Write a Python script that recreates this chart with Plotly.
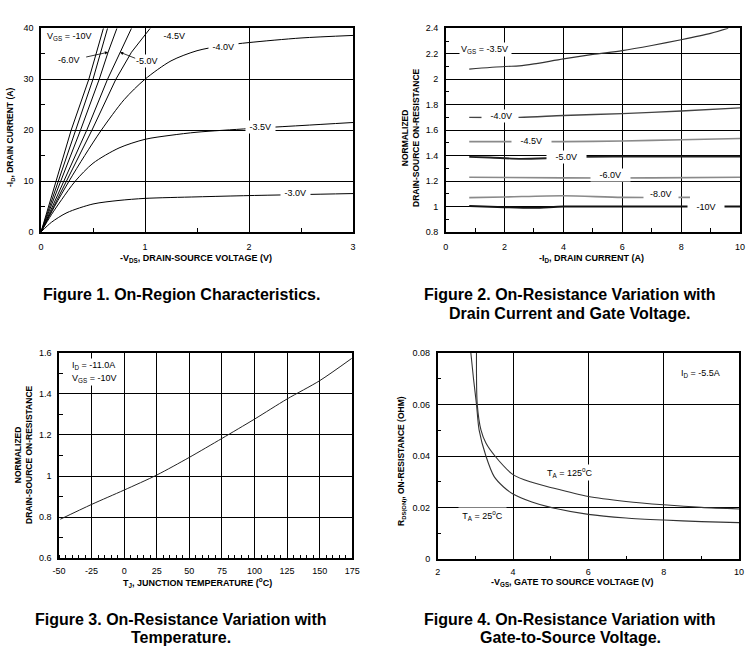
import plotly.graph_objects as go

FONT = "Liberation Sans, Arial, sans-serif"

# ---------------- Figure 1 : -ID (A) vs -VDS (V) ----------------
f1_vds_m10 = [0.0, 0.29, 0.46, 0.60]
f1_id_m10 = [0.0, 20.0, 30.0, 40.0]
f1_vds_m8 = [0.0, 0.33, 0.50, 0.64]
f1_id_m8 = [0.0, 20.0, 30.0, 40.0]
f1_vds_m6 = [0.0, 0.38, 0.56, 0.645, 0.73]
f1_id_m6 = [0.0, 20.0, 30.0, 35.3, 40.0]
f1_vds_m5 = [0.0, 0.44, 0.64, 0.76, 0.87]
f1_id_m5 = [0.0, 20.0, 30.0, 35.3, 40.0]
f1_vds_m45 = [0.0, 0.49, 0.72, 0.87, 1.05]
f1_id_m45 = [0.0, 20.0, 30.0, 35.3, 40.0]
f1_vds_m40 = [0.0, 0.13, 0.27, 0.42, 0.58, 0.80, 1.0, 1.25, 1.5, 1.75, 2.0, 2.5, 3.0]
f1_id_m40 = [0.0, 5.0, 10.0, 15.0, 20.0, 26.0, 30.0, 33.6, 35.6, 36.6, 37.2, 38.1, 38.6]
f1_vds_m35 = [0.0, 0.10, 0.20, 0.33, 0.50, 0.75, 1.0, 1.25, 1.5, 2.0, 2.5, 3.0]
f1_id_m35 = [0.0, 3.4, 6.4, 10.0, 13.5, 16.5, 18.2, 19.0, 19.6, 20.3, 20.9, 21.5]
f1_vds_m30 = [0.0, 0.10, 0.25, 0.50, 0.75, 1.0, 1.5, 2.0, 2.5, 3.0]
f1_id_m30 = [0.0, 1.9, 3.8, 5.5, 6.2, 6.6, 6.9, 7.15, 7.35, 7.55]

# ---------------- Figure 2 : normalized RDS(on) vs -ID ----------------
f2_id_m35 = [0.8, 2.0, 2.5, 3.0, 4.0, 5.0, 6.0, 7.0, 8.0, 9.0, 9.6]
f2_r_m35 = [2.08, 2.10, 2.105, 2.12, 2.16, 2.195, 2.225, 2.265, 2.31, 2.36, 2.40]
f2_id_m40 = [0.8, 2.5, 4.0, 6.0, 8.0, 10.0]
f2_r_m40 = [1.70, 1.70, 1.715, 1.73, 1.75, 1.775]
f2_id_m45 = [0.8, 2.0, 4.0, 6.0, 8.0, 10.0]
f2_r_m45 = [1.51, 1.51, 1.51, 1.515, 1.525, 1.535]
f2_id_m50 = [0.8, 1.5, 2.5, 3.5, 4.5, 6.0, 8.0, 10.0]
f2_r_m50 = [1.39, 1.385, 1.375, 1.38, 1.39, 1.392, 1.392, 1.392]
f2_id_m60 = [0.8, 4.0, 7.0, 10.0]
f2_r_m60 = [1.23, 1.225, 1.225, 1.23]
f2_id_m80 = [0.8, 2.0, 4.0, 6.0, 8.3]
f2_r_m80 = [1.07, 1.075, 1.085, 1.072, 1.072]
f2_id_m100 = [0.8, 2.0, 3.0, 4.0, 6.0, 8.0, 10.0]
f2_r_m100 = [1.005, 0.995, 0.99, 1.0, 1.0, 1.0, 1.0]

# ---------------- Figure 3 : normalized RDS(on) vs TJ ----------------
f3_tj = [-49, -25, 0, 25, 50, 75, 100, 125, 150, 174.5]
f3_r = [0.79, 0.862, 0.932, 1.005, 1.091, 1.183, 1.277, 1.375, 1.464, 1.572]
f3_tick_vals = [-50, -25, 0, 25, 50, 75, 100, 125, 150, 175]
f3_tick_text = ["-50", "-25", "0", "25", "50", "75", "100", "125", "150", "175"]

# ---------------- Figure 4 : RDS(on) vs -VGS ----------------
f4_vgs_25 = [2.88, 2.95, 3.03, 3.10, 3.28, 3.5, 3.75, 4.0, 4.5, 5.0, 6.0, 7.0, 8.0, 9.0, 10.0]
f4_r_25 = [0.080, 0.070, 0.060, 0.050, 0.040, 0.032, 0.028, 0.0253, 0.0222, 0.0201, 0.0174, 0.0160, 0.0152, 0.0146, 0.0142]
f4_vgs_125 = [3.03, 3.05, 3.15, 3.28, 3.52, 4.0, 4.5, 5.0, 6.0, 7.0, 8.0, 9.0, 10.0]
f4_r_125 = [0.080, 0.060, 0.050, 0.045, 0.040, 0.0328, 0.0298, 0.0278, 0.0243, 0.0224, 0.0211, 0.0201, 0.0195]

W, H = 756, 648


def px(x):
    return x / W


def py(y):
    return 1 - y / H


fig = go.Figure()


def add_line(x, y, axis, color="black", width=1.0, shape="spline"):
    fig.add_trace(go.Scatter(
        x=x, y=y, mode="lines", xaxis="x" + axis, yaxis="y" + axis,
        line=dict(color=color, width=width, shape=shape, smoothing=0.8),
        hoverinfo="skip", showlegend=False))


# Figure 1 traces
for xs, ys in [(f1_vds_m10, f1_id_m10), (f1_vds_m8, f1_id_m8), (f1_vds_m6, f1_id_m6),
               (f1_vds_m5, f1_id_m5), (f1_vds_m45, f1_id_m45)]:
    add_line(xs, ys, "", shape="linear")
for xs, ys in [(f1_vds_m40, f1_id_m40), (f1_vds_m35, f1_id_m35), (f1_vds_m30, f1_id_m30)]:
    add_line(xs, ys, "")

# Figure 2 traces
add_line(f2_id_m35, f2_r_m35, "2", color="#333333", width=1.2)
add_line(f2_id_m40, f2_r_m40, "2", color="#444444", width=1.4)
add_line(f2_id_m45, f2_r_m45, "2", color="#8a8a8a", width=1.6)
add_line(f2_id_m50, f2_r_m50, "2", color="#222222", width=1.8)
add_line(f2_id_m60, f2_r_m60, "2", color="#8a8a8a", width=1.6)
add_line(f2_id_m80, f2_r_m80, "2", color="#8a8a8a", width=1.6)
add_line(f2_id_m100, f2_r_m100, "2", color="#111111", width=2.0)

# Figure 3 trace
add_line(f3_tj, f3_r, "3", color="#222222", width=1.0)

# Figure 4 traces
add_line(f4_vgs_25, f4_r_25, "4", color="#333333", width=1.1)
add_line(f4_vgs_125, f4_r_125, "4", color="#333333", width=1.1)


def axis(domain, rng, dtick, minor, anchor, standoff, tickvals=None, ticktext=None):
    d = dict(domain=domain, range=rng, dtick=dtick, showgrid=True, gridcolor="black",
             gridwidth=1.3, showline=True, linecolor="black", linewidth=1.5, mirror=True,
             ticks="", zeroline=False, anchor=anchor, fixedrange=True,
             ticklabelstandoff=standoff, automargin=False,
             tickfont=dict(family=FONT, size=9, color="black"),
             minor=dict(dtick=minor, ticks="inside", ticklen=4, tickcolor="black",
                        tickwidth=1, showgrid=False))
    if tickvals is not None:
        d.update(tickmode="array", tickvals=tickvals, ticktext=ticktext)
        d["minor"]["tickmode"] = "linear"
        d["minor"]["tick0"] = rng[0]
    return d


top_dom = [py(232), py(28.3)]
bot_dom = [py(558.3), py(352.7)]

fig.update_layout(
    width=W, height=H, margin=dict(l=0, r=0, t=0, b=0, autoexpand=False),
    paper_bgcolor="white", plot_bgcolor="white", showlegend=False,
    font=dict(family=FONT, color="black"),
    xaxis=axis([px(41), px(353)], [0, 3], 1, 0.5, "y", 5),
    yaxis=axis(top_dom, [0, 40], 10, 5, "x", 4),
    xaxis2=axis([px(445.7), px(740)], [0, 10], 2, 1, "y2", 5),
    yaxis2=axis(top_dom, [0.8, 2.4], 0.2, 0.1, "x2", 4),
    xaxis3=axis([px(59), px(352.3)], [-50, 175], 25, 5, "y3", 3,
                tickvals=f3_tick_vals, ticktext=f3_tick_text),
    yaxis3=axis(bot_dom, [0.6, 1.6], 0.2, 0.1, "x3", 4),
    xaxis4=axis([px(437.7), px(739)], [2, 10], 2, 1, "y4", 3),
    yaxis4=axis([py(559.3), py(352.7)], [0, 0.08], 0.02, 0.01, "x4", 4),
)

ann = []


def label(text, x, y, ax_id, xanchor="center", bg="white", size=9):
    ann.append(dict(text=text, x=x, y=y, xref="x" + ax_id, yref="y" + ax_id,
                    showarrow=False, xanchor=xanchor, yanchor="middle",
                    bgcolor=bg, borderpad=1,
                    font=dict(family=FONT, size=size, color="black")))


# Figure 1 labels
label("V<sub>GS</sub> = -10V ", 0.04, 38.3, "", xanchor="left")
label(" -4.5V ", 1.28, 38.4, "")
label(" -4.0V ", 1.75, 36.3, "")
label(" -3.5V ", 2.11, 20.7, "")
label(" -3.0V ", 2.45, 7.6, "")
label("-6.0V", 0.27, 33.8, "")
label("-5.0V", 1.02, 33.5, "")
for head_x, tail_x, tail_y in [(0.645, 0.42, 34.3), (0.76, 0.92, 34.0)]:
    ann.append(dict(text="", x=head_x, y=35.3, ax=tail_x, ay=tail_y, xref="x", yref="y",
                    axref="x", ayref="y", showarrow=True, arrowhead=2, arrowsize=0.8,
                    arrowwidth=0.8, arrowcolor="black", standoff=0))

# Figure 2 labels
label("V<sub>GS</sub> = -3.5V ", 0.45, 2.235, "2", xanchor="left")
label("   -4.0V  ", 1.85, 1.715, "2")
label("   -4.5V   ", 2.9, 1.515, "2")
label("   -5.0V   ", 4.1, 1.39, "2")
label("   -6.0V   ", 5.6, 1.25, "2")
label("  -8.0V  ", 7.3, 1.10, "2")
label("   -10V   ", 8.85, 1.0, "2")

# Figure 3 labels
label("I<sub>D</sub> = -11.0A", -41.5, 1.54, "3", xanchor="left")
label("V<sub>GS</sub> = -10V", -41.5, 1.475, "3", xanchor="left")

# Figure 4 labels
label("I<sub>D</sub> = -5.5A", 8.4, 0.072, "4", xanchor="left")
label("T<sub>A</sub> = 125<sup>o</sup>C", 5.5, 0.0335, "4")
label(" T<sub>A</sub> = 25<sup>o</sup>C ", 3.2, 0.0168, "4")


def paper_text(text, x, y, size=8.5, angle=0, bold=True):
    ann.append(dict(text=("<b>%s</b>" % text) if bold else text, x=px(x), y=py(y),
                    xref="paper", yref="paper", showarrow=False, xanchor="center",
                    yanchor="middle", textangle=angle,
                    font=dict(family=FONT, size=size, color="black")))


# axis titles
paper_text("-V<sub>DS</sub>, DRAIN-SOURCE VOLTAGE (V)", 196, 258, size=9)
paper_text("-I<sub>D</sub>, DRAIN CURRENT (A)", 10, 138, angle=-90)
paper_text("-I<sub>D</sub>, DRAIN CURRENT (A)", 591, 258, size=9)
paper_text("NORMALIZED<br>DRAIN-SOURCE ON-RESISTANCE", 410, 138, angle=-90)
paper_text("T<sub>J</sub>, JUNCTION TEMPERATURE (<sup>o</sup>C)", 197, 582, size=9)
paper_text("NORMALIZED<br>DRAIN-SOURCE ON-RESISTANCE", 23, 455, angle=-90)
paper_text("-V<sub>GS</sub>, GATE TO SOURCE VOLTAGE (V)", 572, 582, size=9)
paper_text("R<sub>DS(ON)</sub>, ON-RESISTANCE (OHM)", 401, 461, angle=-90)

# captions
paper_text("Figure 1. On-Region Characteristics.", 181, 294, size=16)
paper_text("Figure 2. On-Resistance Variation with", 570, 294, size=16)
paper_text("Drain Current and Gate Voltage.", 570, 313, size=16)
paper_text("Figure 3. On-Resistance Variation with", 181, 619, size=16)
paper_text("Temperature.", 181, 637, size=16)
paper_text("Figure 4. On-Resistance Variation with", 570, 619, size=16)
paper_text("Gate-to-Source Voltage.", 570, 637, size=16)

fig.update_layout(annotations=ann)
fig.write_html("out.html", config={"displayModeBar": False},
               post_script="document.body.style.margin='0px';document.body.style.overflow='hidden';")
